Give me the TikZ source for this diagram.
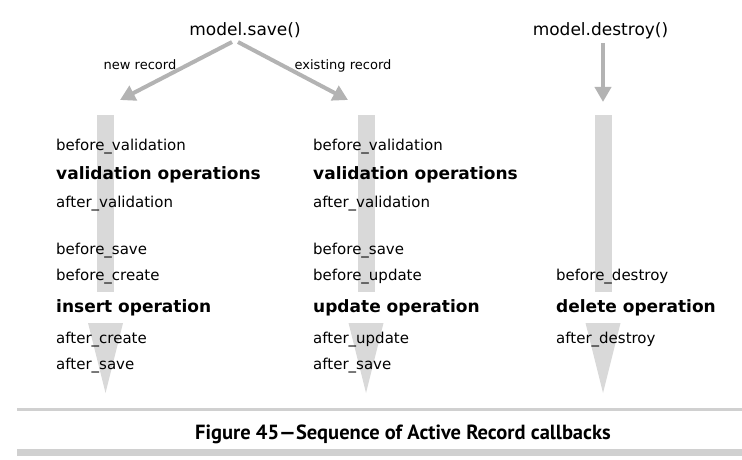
\documentclass[tikz,border=0pt]{standalone}
\usepackage{fontspec}
\setmainfont{DejaVu Sans}
\newfontfamily\capfont[Ligatures=TeX]{PT Sans}
\usetikzlibrary{arrows.meta}
\definecolor{bargray}{HTML}{D9D9D9}
\definecolor{arrgray}{HTML}{B3B3B3}
\definecolor{rulegray}{HTML}{D0D0D0}
\tikzset{
  cb/.style={anchor=base west, inner sep=0pt, font=\fontsize{15}{18}\selectfont},
  op/.style={anchor=base west, inner sep=0pt, font=\fontsize{17}{20}\selectfont\bfseries},
  call/.style={anchor=base, inner sep=0pt, font=\fontsize{17}{20}\selectfont},
  lbl/.style={anchor=base, inner sep=0pt, font=\fontsize{13}{16}\selectfont},
  flow/.style={draw=arrgray, line width=4pt, -{Triangle[length=15pt,width=16pt]}},
  bar/.style={fill=bargray, draw=none},
}
\begin{document}
\begin{tikzpicture}[x=1pt,y=-1pt]
\useasboundingbox (0,0) rectangle (742,460);
% bars and triangles
\foreach \c in {105.5,366,603}{
  \fill[bargray] (\c-8.5,115) rectangle (\c+8.5,292);
  \fill[bargray] (\c-17.5,323) -- (\c+17.5,323) -- (\c,393) -- cycle;
}
% calls
\node[call] (save) at (245,36) {model.save()};
\node[call] (destroy) at (600.5,36) {model.destroy()};
\coordinate (s1) at (232,42);
\coordinate (s2) at (238,42);
\coordinate (d1) at (603,43);
\coordinate (t1) at (120,100);
\coordinate (t2) at (348,100);
\coordinate (t3) at (603,102);
\draw[flow] (s1) -- (t1);
\draw[flow] (s2) -- (t2);
\draw[flow] (d1) -- (t3);
\node[lbl] (lnew) at (140,70) {new record};
\node[lbl] (lex) at (343,70) {existing record};
% column 1
\node[cb] (a1) at (56,150) {before\_validation};
\node[op] (a2) at (56,179) {validation operations};
\node[cb] (a3) at (56,207) {after\_validation};
\node[cb] (a4) at (56,254) {before\_save};
\node[cb] (a5) at (56,280) {before\_create};
\node[op] (a6) at (56,312) {insert operation};
\node[cb] (a7) at (56,343) {after\_create};
\node[cb] (a8) at (56,369) {after\_save};
% column 2
\node[cb] (b1) at (313,150) {before\_validation};
\node[op] (b2) at (313,179) {validation operations};
\node[cb] (b3) at (313,207) {after\_validation};
\node[cb] (b4) at (313,254) {before\_save};
\node[cb] (b5) at (313,280) {before\_update};
\node[op] (b6) at (313,312) {update operation};
\node[cb] (b7) at (313,343) {after\_update};
\node[cb] (b8) at (313,369) {after\_save};
% column 3
\node[cb] (c5) at (556,280) {before\_destroy};
\node[op] (c6) at (556,312) {delete operation};
\node[cb] (c7) at (556,343) {after\_destroy};
% caption
\fill[rulegray] (17,408) rectangle (742,411);
\fill[rulegray] (17,449) rectangle (742,456);
\node[anchor=base, inner sep=0pt, font=\capfont\fontsize{20.5}{23}\selectfont\bfseries] (cap) at (403,439) {Figure 45---Sequence of Active Record callbacks};
\end{tikzpicture}
\end{document}
